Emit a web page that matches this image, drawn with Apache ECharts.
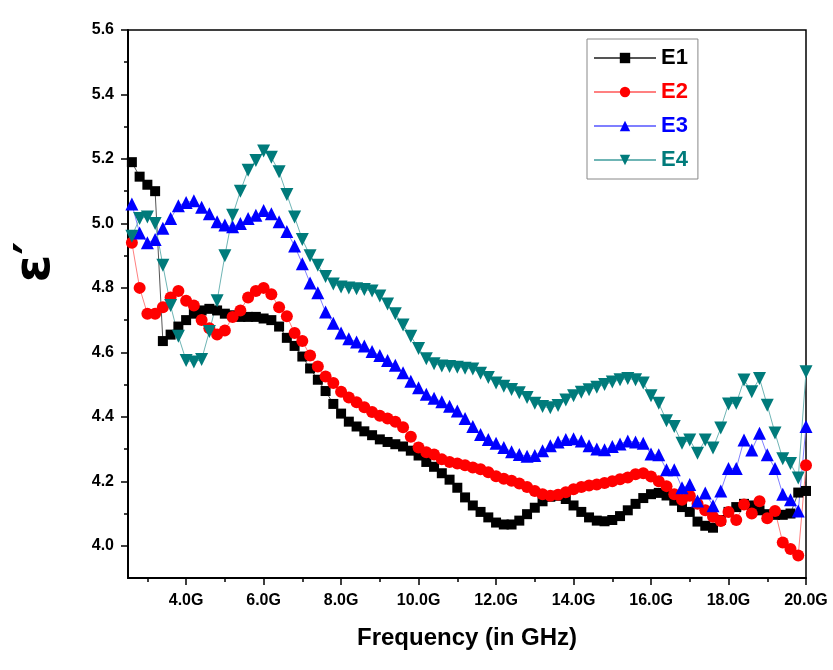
<!DOCTYPE html>
<html>
<head>
<meta charset="utf-8">
<title>Permittivity</title>
<script src="https://cdn.jsdelivr.net/npm/echarts@6/dist/echarts.min.js"></script>
<style>
	html, body { margin: 0; padding: 0; background: #fff; }
	#chart { width: 833px; height: 670px; }
</style>
</head>
<body>
<div id="chart"></div>
<script>
// 频率 (GHz)
const freq = [
	2.6, 2.8, 3.0, 3.2, 3.4, 3.6, 3.8, 4.0, 4.2, 4.4,
	4.6, 4.8, 5.0, 5.2, 5.4, 5.6, 5.8, 6.0, 6.2, 6.4,
	6.6, 6.8, 7.0, 7.2, 7.4, 7.6, 7.8, 8.0, 8.2, 8.4,
	8.6, 8.8, 9.0, 9.2, 9.4, 9.6, 9.8, 10.0, 10.2, 10.4,
	10.6, 10.8, 11.0, 11.2, 11.4, 11.6, 11.8, 12.0, 12.2, 12.4,
	12.6, 12.8, 13.0, 13.2, 13.4, 13.6, 13.8, 14.0, 14.2, 14.4,
	14.6, 14.8, 15.0, 15.2, 15.4, 15.6, 15.8, 16.0, 16.2, 16.4,
	16.6, 16.8, 17.0, 17.2, 17.4, 17.6, 17.8, 18.0, 18.2, 18.4,
	18.6, 18.8, 19.0, 19.2, 19.4, 19.6, 19.8, 20.0
];

const e1 = [
	5.19, 5.145, 5.12, 5.10, 4.635, 4.655, 4.68, 4.70, 4.72, 4.73,
	4.735, 4.73, 4.72, 4.715, 4.71, 4.71, 4.71, 4.705, 4.70, 4.68,
	4.645, 4.62, 4.587, 4.55, 4.515, 4.48, 4.44, 4.41, 4.385, 4.37,
	4.355, 4.343, 4.33, 4.322, 4.315, 4.308, 4.295, 4.28, 4.26, 4.245,
	4.225, 4.205, 4.18, 4.15, 4.125, 4.105, 4.088, 4.072, 4.066, 4.066,
	4.078, 4.098, 4.118, 4.138, 4.152, 4.155, 4.145, 4.125, 4.105, 4.088,
	4.078, 4.076, 4.08, 4.092, 4.11, 4.13, 4.148, 4.16, 4.164, 4.156,
	4.14, 4.12, 4.105, 4.075, 4.062, 4.056, 4.08, 4.105, 4.12, 4.13,
	4.125, 4.11, 4.098, 4.096, 4.096, 4.10, 4.165, 4.17
];

const e2 = [
	4.94, 4.80, 4.72, 4.72, 4.74, 4.77, 4.79, 4.76, 4.745, 4.70,
	4.675, 4.655, 4.668, 4.71, 4.73, 4.77, 4.79, 4.80, 4.78, 4.74,
	4.712, 4.66, 4.635, 4.59, 4.556, 4.525, 4.505, 4.478, 4.46, 4.445,
	4.43, 4.415, 4.403, 4.395, 4.385, 4.368, 4.338, 4.305, 4.29, 4.283,
	4.268, 4.26, 4.255, 4.25, 4.243, 4.237, 4.228, 4.216, 4.208, 4.202,
	4.193, 4.182, 4.17, 4.16, 4.155, 4.158, 4.166, 4.175, 4.182, 4.187,
	4.19, 4.195, 4.20, 4.206, 4.212, 4.222, 4.225, 4.215, 4.20, 4.185,
	4.16, 4.143, 4.155, 4.13, 4.11, 4.09, 4.077, 4.105, 4.08, 4.128,
	4.10, 4.138, 4.085, 4.108, 4.01, 3.99, 3.97, 4.25
];

const e3 = [
	5.06, 4.97, 4.94, 4.95, 4.985, 5.015, 5.055, 5.065, 5.07, 5.05,
	5.03, 5.005, 4.995, 4.99, 5.0, 5.015, 5.025, 5.04, 5.03, 5.005,
	4.975, 4.93, 4.875, 4.815, 4.785, 4.725, 4.69, 4.66, 4.642, 4.632,
	4.62, 4.603, 4.59, 4.575, 4.56, 4.537, 4.51, 4.49, 4.47, 4.458,
	4.447, 4.433, 4.418, 4.395, 4.37, 4.345, 4.33, 4.318, 4.305, 4.292,
	4.283, 4.278, 4.28, 4.295, 4.31, 4.322, 4.33, 4.332, 4.325, 4.31,
	4.30, 4.298, 4.308, 4.316, 4.325, 4.322, 4.318, 4.285, 4.282, 4.236,
	4.236, 4.18, 4.19, 4.139, 4.164, 4.124, 4.17, 4.24, 4.24, 4.328,
	4.297, 4.349, 4.282, 4.24, 4.16, 4.143, 4.108, 4.37
];

const e4 = [
	4.96, 5.015, 5.02, 5.0, 4.87, 4.745, 4.65, 4.575, 4.57, 4.578,
	4.665, 4.76, 4.9, 5.025, 5.1, 5.165, 5.195, 5.225, 5.205, 5.16,
	5.09, 5.02, 4.95, 4.9, 4.87, 4.835, 4.812, 4.803, 4.80, 4.797,
	4.795, 4.79, 4.775, 4.75, 4.72, 4.685, 4.65, 4.612, 4.58, 4.565,
	4.558, 4.556, 4.554, 4.551, 4.548, 4.535, 4.522, 4.505, 4.495, 4.485,
	4.475, 4.46, 4.442, 4.432, 4.428, 4.435, 4.452, 4.465, 4.476, 4.484,
	4.492, 4.50, 4.508, 4.515, 4.519, 4.515, 4.505, 4.465, 4.442, 4.388,
	4.37, 4.318, 4.328, 4.287, 4.328, 4.303, 4.365, 4.44, 4.442, 4.514,
	4.478, 4.519, 4.436, 4.35, 4.27, 4.255, 4.21, 4.54
];

// 刻度
const xMajorTicks = [4, 6, 8, 10, 12, 14, 16, 18, 20];
const xMinorTicks = [3, 5, 7, 9, 11, 13, 15, 17, 19];
const yMajorTicks = [4.0, 4.2, 4.4, 4.6, 4.8, 5.0, 5.2, 5.4, 5.6];
const yMinorTicks = [4.1, 4.3, 4.5, 4.7, 4.9, 5.1, 5.3, 5.5];

const font = "'Liberation Sans', Arial, sans-serif";

/**
 *  生成单条曲线
 */
function makeSeries(name, values, color, lineColor, symbol, size, rotate) {
	return {
		name: name,
		type: 'line',
		xAxisIndex: 0,
		yAxisIndex: 0,
		data: freq.map((f, i) => [f, values[i]]),
		symbol: symbol,
		symbolSize: size,
		symbolRotate: rotate,
		showAllSymbol: true,
		itemStyle: { color: color },
		lineStyle: { color: lineColor, width: 1 },
		emphasis: { disabled: true },
		animation: false
	};
}

let chart = echarts.init(document.getElementById('chart'));
let option = {
	backgroundColor: '#fff',
	animation: false,
	grid: {
		left: 128, right: 27, top: 30, bottom: 92,
		show: true, borderColor: '#000', borderWidth: 1.5, backgroundColor: 'transparent'
	},
	// y轴标题 ε′ (旋转)
	graphic: [{
		type: 'text',
		x: 36, y: 262,
		rotation: Math.PI / 2,
		style: {
			text: 'ε′',
			fontFamily: "'DejaVu Sans', sans-serif", fontWeight: 'bold', fontSize: 50,
			fill: '#000', align: 'center', verticalAlign: 'middle'
		}
	}],
	legend: {
		orient: 'vertical',
		left: 587, top: 39,
		padding: [8, 10, 8, 6],
		itemGap: 12,
		itemWidth: 62, itemHeight: 13,
		borderColor: '#888', borderWidth: 1,
		textStyle: { fontFamily: font, fontWeight: 'bold', fontSize: 22 },
		data: [
			{ name: 'E1', textStyle: { color: '#000' } },
			{ name: 'E2', textStyle: { color: '#ff0000' } },
			{ name: 'E3', textStyle: { color: '#0000ff' } },
			{ name: 'E4', textStyle: { color: '#007b7b' } }
		]
	},
	xAxis: [{
		type: 'value', min: 2.5, max: 20,
		name: 'Frequency (in GHz)', nameLocation: 'middle', nameGap: 48,
		nameTextStyle: { fontFamily: font, fontWeight: 'bold', fontSize: 24, color: '#000' },
		axisLine: { lineStyle: { color: '#000', width: 2 } },
		axisTick: { customValues: xMajorTicks, length: 7, lineStyle: { color: '#000', width: 1.5 } },
		axisLabel: {
			customValues: xMajorTicks, margin: 15,
			fontFamily: font, fontWeight: 'bold', fontSize: 16, color: '#000',
			formatter: v => v.toFixed(1) + 'G'
		},
		splitLine: { show: false }
	}, {
		type: 'value', min: 2.5, max: 20, position: 'bottom',
		axisLine: { show: false },
		axisTick: { customValues: xMinorTicks, length: 4, lineStyle: { color: '#000', width: 1.5 } },
		axisLabel: { show: false },
		splitLine: { show: false }
	}],
	yAxis: [{
		type: 'value', min: 3.9, max: 5.6,
		axisLine: { lineStyle: { color: '#000', width: 2 } },
		axisTick: { customValues: yMajorTicks, length: 7, lineStyle: { color: '#000', width: 1.5 } },
		axisLabel: {
			customValues: yMajorTicks, margin: 14,
			fontFamily: font, fontWeight: 'bold', fontSize: 16, color: '#000',
			formatter: v => v.toFixed(1)
		},
		splitLine: { show: false }
	}, {
		type: 'value', min: 3.9, max: 5.6, position: 'left',
		axisLine: { show: false },
		axisTick: { customValues: yMinorTicks, length: 4, lineStyle: { color: '#000', width: 1.5 } },
		axisLabel: { show: false },
		splitLine: { show: false }
	}],
	series: [
		makeSeries('E1', e1, '#000000', '#555555', 'rect', 10, 0),
		makeSeries('E2', e2, '#ff0000', '#ff8080', 'circle', 12, 0),
		makeSeries('E3', e3, '#0000ff', '#7f7fff', 'triangle', 13, 0),
		makeSeries('E4', e4, '#007b7b', '#6fb5b5', 'triangle', 13, 180)
	]
};
chart.setOption(option);
</script>
</body>
</html>
